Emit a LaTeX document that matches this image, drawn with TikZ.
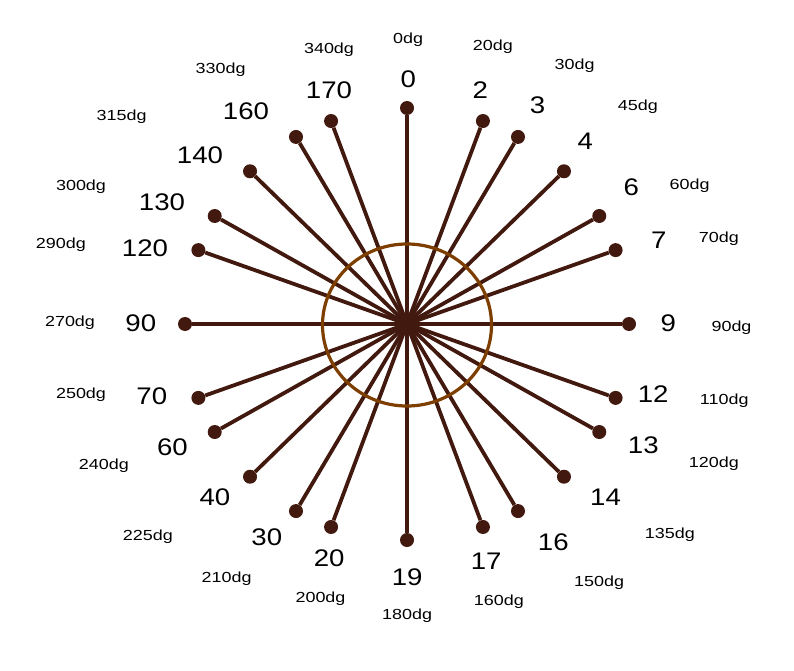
\documentclass[tikz,border=0pt]{standalone}
\usepackage{fontspec}
\usetikzlibrary{shapes.geometric}
\newfontfamily\numfont[FakeStretch=1.15]{Liberation Sans}
\newfontfamily\dgfont[FakeStretch=1.23]{Liberation Sans}
\definecolor{spokecol}{RGB}{66,25,15}
\definecolor{ringcol}{RGB}{125,62,0}
\begin{document}
\begin{tikzpicture}[x=1pt,y=-1pt,
  spoke/.style={draw=spokecol,line width=3.8pt},
  dot/.style={circle,fill=spokecol,inner sep=0pt,minimum size=14pt},
  num/.style={inner sep=0pt,font=\numfont\fontsize{24}{24}\selectfont},
  deg/.style={inner sep=0pt,font=\dgfont\fontsize{14.6}{14.6}\selectfont},
  ring/.style={ellipse,draw=ringcol,line width=3.2pt,inner sep=0pt,minimum width=169pt,minimum height=162pt}]
\useasboundingbox (0,0) rectangle (794,671);
\coordinate (c) at (407,324);
\foreach \a in {0,20,30,45,60,70,90,110,120,135,150,160,180,200,210,225,240,250,270,290,300,315,330,340}{
  \node[dot] (d\a) at ({407+222*sin(\a)},{324-216*cos(\a)}) {};
  \draw[spoke] (c) -- (d\a);
}
\node[ring] (r) at (407,325) {};
% number labels
\node[num] (n0) at (408.3,79.7) {0};
\node[num] (n2) at (480.3,90.5) {2};
\node[num] (n3) at (537.5,105) {3};
\node[num] (n4) at (585.3,141.3) {4};
\node[num] (n6) at (631.3,187.5) {6};
\node[num] (n7) at (658.7,240) {7};
\node[num] (n9) at (668.3,323.3) {9};
\node[num] (n12) at (653.2,394.2) {12};
\node[num] (n13) at (643.3,445) {13};
\node[num] (n14) at (605.5,496.8) {14};
\node[num] (n16) at (553.3,541.8) {16};
\node[num] (n17) at (486.2,561.3) {17};
\node[num] (n19) at (407.2,577) {19};
\node[num] (n20) at (329.2,558.3) {20};
\node[num] (n30) at (266.8,537.2) {30};
\node[num] (n40) at (215,497.2) {40};
\node[num] (n60) at (172.5,446.8) {60};
\node[num] (n70) at (151.8,395.8) {70};
\node[num] (n90) at (140.8,323.7) {90};
\node[num] (n120) at (145,248.3) {120};
\node[num] (n130) at (162,202) {130};
\node[num] (n140) at (200,155.3) {140};
\node[num] (n160) at (246,111.3) {160};
\node[num] (n170) at (329,90.3) {170};
% degree labels
\node[deg] (g0) at (408.2,40) {0dg};
\node[deg] (g20) at (492.8,47) {20dg};
\node[deg] (g30) at (574.7,65.3) {30dg};
\node[deg] (g45) at (637.8,106.7) {45dg};
\node[deg] (g60) at (689.7,185.7) {60dg};
\node[deg] (g70) at (718.8,238.3) {70dg};
\node[deg] (g90) at (731.5,328) {90dg};
\node[deg] (g110) at (724.2,400.3) {110dg};
\node[deg] (g120) at (713.8,464) {120dg};
\node[deg] (g135) at (669.8,535) {135dg};
\node[deg] (g150) at (599.2,582.7) {150dg};
\node[deg] (g160) at (498.8,601.7) {160dg};
\node[deg] (g180) at (407.2,615.5) {180dg};
\node[deg] (g200) at (320.5,598.3) {200dg};
\node[deg] (g210) at (226.7,578.7) {210dg};
\node[deg] (g225) at (147.8,536.7) {225dg};
\node[deg] (g240) at (103.8,465.8) {240dg};
\node[deg] (g250) at (81,395) {250dg};
\node[deg] (g270) at (70,323) {270dg};
\node[deg] (g290) at (60.8,245) {290dg};
\node[deg] (g300) at (81,186.3) {300dg};
\node[deg] (g315) at (121.7,116.7) {315dg};
\node[deg] (g330) at (220.7,70) {330dg};
\node[deg] (g340) at (329,50) {340dg};
\end{tikzpicture}
\end{document}
